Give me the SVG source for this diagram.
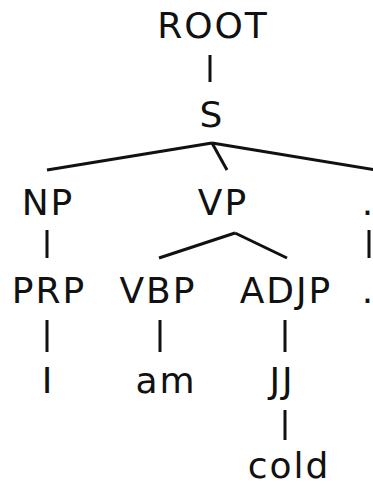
<svg xmlns="http://www.w3.org/2000/svg" width="373" height="485" viewBox="0 0 373 485">
<style>
text{font-family:"DejaVu Sans","Liberation Sans",sans-serif;font-size:36px;fill:#111;text-anchor:middle;letter-spacing:2px}
text.d{letter-spacing:0}
.e{stroke:#111;stroke-width:3;fill:none;stroke-linecap:butt}
</style>
<rect width="373" height="485" fill="#fff"/>
<g id="connectors">
<line class="e" x1="210" y1="55" x2="210" y2="82"/>
<line class="e" x1="212" y1="143" x2="47" y2="170"/>
<line class="e" x1="212" y1="143" x2="227" y2="170"/>
<line class="e" x1="212" y1="143" x2="376" y2="170"/>
<line class="e" x1="47" y1="230" x2="47" y2="258"/>
<line class="e" x1="235" y1="233" x2="159" y2="258"/>
<line class="e" x1="235" y1="233" x2="287" y2="258"/>
<line class="e" x1="369" y1="230" x2="369" y2="258"/>
<line class="e" x1="47" y1="320" x2="47" y2="352"/>
<line class="e" x1="160" y1="320" x2="160" y2="352"/>
<line class="e" x1="285" y1="320" x2="285" y2="352"/>
<line class="e" x1="285" y1="410" x2="285" y2="440"/>
</g>
<g id="root"><text x="213" y="38">ROOT</text></g>
<g id="s"><text x="212" y="127">S</text></g>
<g id="np"><text x="48" y="215">NP</text></g>
<g id="vp"><text x="223" y="215">VP</text></g>
<g id="dot1"><text class="d" x="367.5" y="215">.</text></g>
<g id="prp"><text x="49" y="303">PRP</text></g>
<g id="vbp"><text x="158" y="303">VBP</text></g>
<g id="adjp"><text x="286" y="303">ADJP</text></g>
<g id="dot2"><text class="d" x="367.5" y="303">.</text></g>
<g id="w-i"><text x="48" y="393">I</text></g>
<g id="w-am"><text x="166" y="393">am</text></g>
<g id="jj"><text x="282" y="393">JJ</text></g>
<g id="w-cold"><text x="289" y="478">cold</text></g>
</svg>
